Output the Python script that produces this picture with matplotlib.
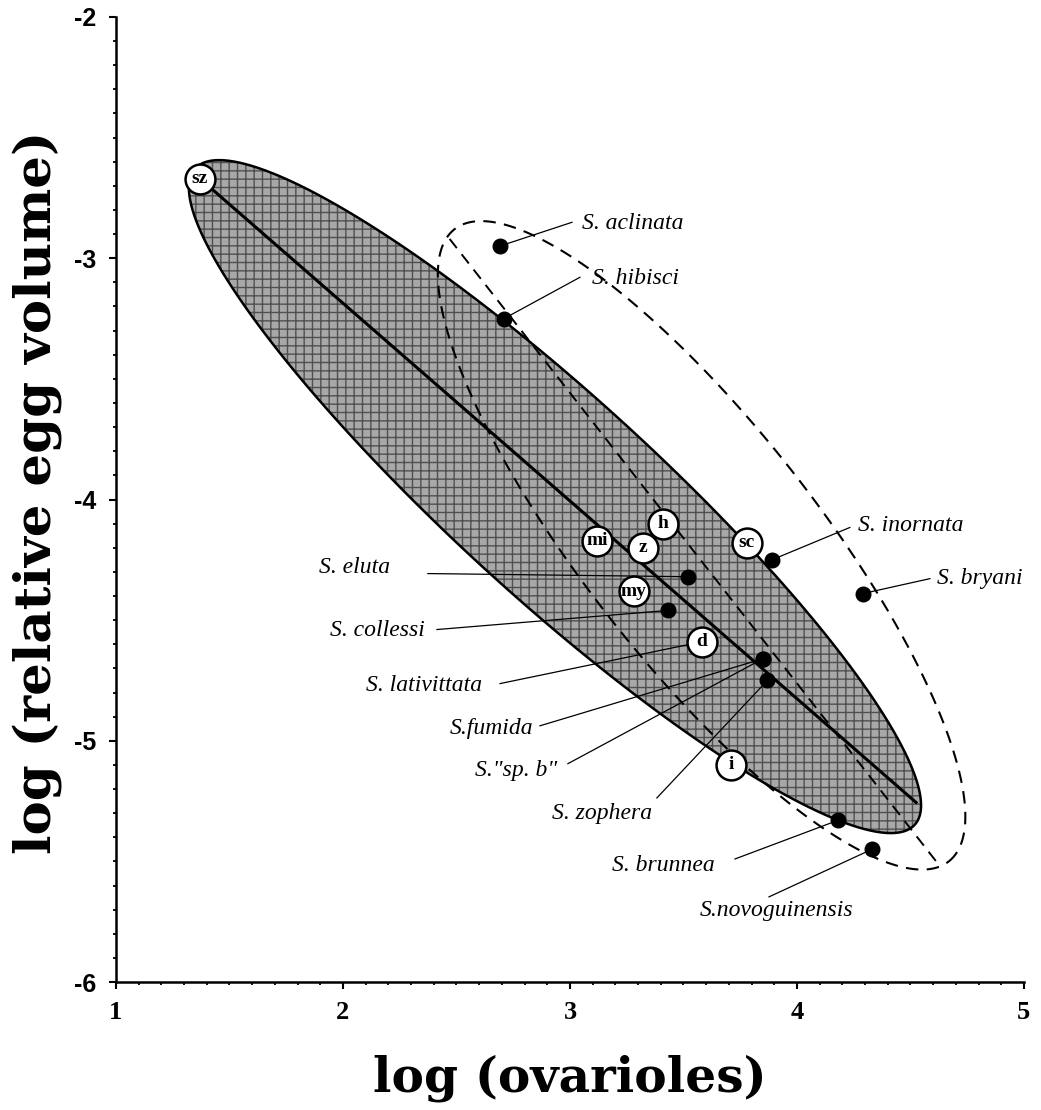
import numpy as np
import matplotlib.pyplot as plt
from matplotlib.patches import Polygon
from matplotlib.ticker import MultipleLocator, FixedLocator, FixedFormatter

# white-circle species (code letters)
circle_codes = ['sz', 'mi', 'h', 'z', 'sc', 'my', 'd', 'i']
circle_x = [1.37, 3.12, 3.41, 3.32, 3.78, 3.28, 3.58, 3.71]
circle_y = [-2.67, -4.17, -4.10, -4.20, -4.18, -4.38, -4.59, -5.10]

# black-dot species
dot_names = ['S. aclinata', 'S. hibisci', 'S. inornata', 'S. bryani', 'S. eluta',
             'S. collessi', 'S.fumida', 'S."sp. b"', 'S. zophera', 'S. brunnea',
             'S.novoguinensis']
dot_x = [2.69, 2.71, 3.89, 4.29, 3.52, 3.43, 3.85, 3.85, 3.87, 4.18, 4.33]
dot_y = [-2.95, -3.25, -4.25, -4.39, -4.32, -4.46, -4.66, -4.66, -4.75, -5.33, -5.45]

# regression lines (end points)
line1_x = [1.37, 4.53]
line1_y = [-2.67, -5.26]
line2_x = [2.47, 4.63]
line2_y = [-2.92, -5.52]

# ellipses: centre, half major vector, half minor vector (data units)
ell1_c = (2.934, -3.988)
ell1_u = (1.585, -1.360)
ell1_v = (0.298, 0.309)
ell2_c = (3.580, -4.190)
ell2_u = (1.089, -1.310)
ell2_v = (0.405, 0.300)

xticks = [1, 2, 3, 4, 5]
yticks = [-6, -5, -4, -3, -2]
ytick_labels = ['-6', '-5', '-4', '-3', '-2']

# label placement: text x, text y, ha, leader start x, leader start y
label_pos = {
    'S. aclinata': (3.053, -2.855, 'left', 3.009, -2.851),
    'S. hibisci': (3.097, -3.083, 'left', 3.044, -3.079),
    'S. inornata': (4.269, -4.108, 'left', 4.233, -4.116),
    'S. bryani': (4.617, -4.328, 'left', 4.586, -4.328),
    'S. eluta': (2.207, -4.282, 'right', 2.374, -4.307),
    'S. collessi': (2.361, -4.544, 'right', 2.414, -4.539),
    'S.fumida': (2.837, -4.950, 'right', 2.868, -4.938),
    'S."sp. b"': (2.943, -5.124, 'right', 2.991, -5.095),
    'S. zophera': (3.361, -5.303, 'right', 3.383, -5.237),
    'S. brunnea': (3.639, -5.519, 'right', 3.727, -5.490),
    'S.novoguinensis': (3.912, -5.705, 'center', 3.877, -5.647),
}
lativ_pos = (2.612, -4.772, 'right', 2.692, -4.763)


def ellipse_pts(c, u, v):
    t = np.linspace(0, 2 * np.pi, 400)
    px = c[0] + np.cos(t) * u[0] + np.sin(t) * v[0]
    py = c[1] + np.cos(t) * u[1] + np.sin(t) * v[1]
    return np.column_stack([px, py])


fig = plt.figure(figsize=(10.41, 11.10), dpi=100)
ax = fig.add_axes([0.1114, 0.1153, 0.8722, 0.8694])
ax.set_xlim(1, 5)
ax.set_ylim(-6, -2)

# shaded ellipse
e1 = ellipse_pts(ell1_c, ell1_u, ell1_v)
ax.add_patch(Polygon(e1, closed=True, facecolor='#a8a8a8', edgecolor='#505050',
                     hatch='++', lw=0, zorder=1))
ax.add_patch(Polygon(e1, closed=True, fill=False, edgecolor='black', lw=1.8, zorder=3))

# dashed ellipse + dashed line
e2 = ellipse_pts(ell2_c, ell2_u, ell2_v)
ax.add_patch(Polygon(e2, closed=True, fill=False, edgecolor='black', lw=1.5,
                     linestyle=(0, (6, 4)), zorder=2))
ax.plot(line2_x, line2_y, color='black', lw=1.4, linestyle=(0, (6, 4)), zorder=2)

# solid line
ax.plot(line1_x, line1_y, color='black', lw=2.2, zorder=3, solid_capstyle='butt')

serif = 'Liberation Serif'
lab_size = 17

# leaders + labels
for name, x, y in zip(dot_names, dot_x, dot_y):
    tx, ty, ha, lx, ly = label_pos[name]
    ax.plot([lx, x], [ly, y], color='black', lw=0.9, zorder=2.5)
    ax.text(tx, ty, name, ha=ha, va='center', fontsize=lab_size, style='italic',
            family=serif, zorder=6)

di = circle_codes.index('d')
tx, ty, ha, lx, ly = lativ_pos
ax.plot([lx, circle_x[di]], [ly, circle_y[di]], color='black', lw=0.9, zorder=2.5)
ax.text(tx, ty, 'S. lativittata', ha=ha, va='center', fontsize=lab_size, style='italic',
        family=serif, zorder=6)

ax.plot(dot_x, dot_y, 'o', color='black', markersize=10.5, zorder=4, linestyle='none')

ax.plot(circle_x, circle_y, 'o', markerfacecolor='white', markeredgecolor='black',
        markeredgewidth=1.8, markersize=21.5, linestyle='none', zorder=5)
for code, x, y in zip(circle_codes, circle_x, circle_y):
    ax.text(x, y, code, ha='center', va='center', fontsize=14, fontweight='bold',
            family=serif, zorder=6)

# axes styling
for s in ['top', 'right']:
    ax.spines[s].set_visible(False)
for s in ['left', 'bottom']:
    ax.spines[s].set_linewidth(1.8)

ax.xaxis.set_major_locator(FixedLocator(xticks))
ax.yaxis.set_major_locator(FixedLocator(yticks))
ax.yaxis.set_major_formatter(FixedFormatter(ytick_labels))
ax.xaxis.set_minor_locator(MultipleLocator(0.1))
ax.yaxis.set_minor_locator(MultipleLocator(0.1))
ax.tick_params(which='major', direction='out', length=5, width=1.5, pad=9)
ax.tick_params(which='minor', direction='out', length=2.5, width=1.3)

for lab in ax.get_xticklabels():
    lab.set_fontfamily(serif)
    lab.set_fontweight('bold')
    lab.set_fontsize(19)
for lab in ax.get_yticklabels():
    lab.set_fontfamily('Liberation Sans')
    lab.set_fontweight('bold')
    lab.set_fontsize(18)

fig.text(0.5476, 0.029, 'log (ovarioles)', ha='center', va='center', fontsize=35,
         fontweight='bold', family='DejaVu Serif')
fig.text(0.036, 0.556, 'log (relative egg volume)', ha='center', va='center',
         fontsize=37, fontweight='bold', family='DejaVu Serif', rotation=90)

fig.savefig('out.png', dpi=100)
